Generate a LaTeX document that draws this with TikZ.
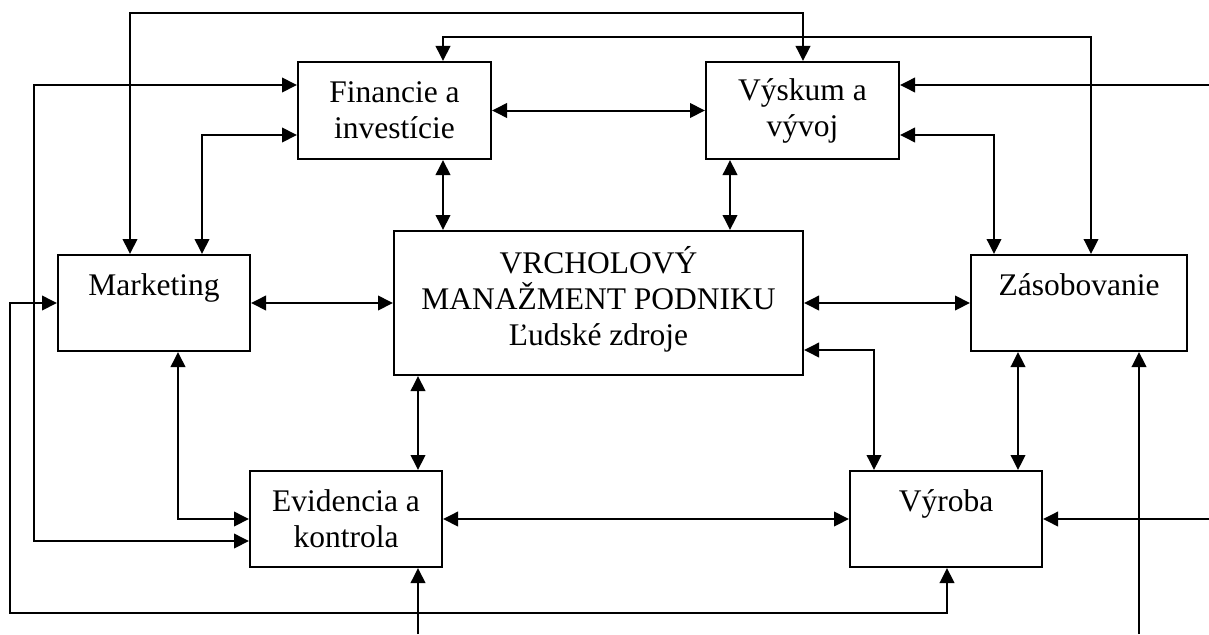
\documentclass[tikz,border=0pt]{standalone}
\usepackage{fontspec}
\setmainfont{Liberation Serif}
\usetikzlibrary{arrows.meta}
\begin{document}
\begin{tikzpicture}[x=1pt,y=-1pt,
  line width=2pt,
  >={Triangle[length=15pt,width=14.5pt]},
  unit/.style={draw, rectangle, inner sep=0pt, align=center,
    font=\fontsize{31.5}{36}\selectfont},
  link/.style={<->},
  feed/.style={->}]
\useasboundingbox (0,0) rectangle (1209,634);

% departments
\node[unit, minimum width=193pt, minimum height=97pt] (fin) at (394.5,110.5) {Financie a\\investície};
\node[unit, minimum width=193pt, minimum height=97pt] (vys) at (802.5,110.5) {Výskum a\\vývoj};
\node[unit, minimum width=192pt, minimum height=96pt] (mkt) at (154,303) {Marketing\\~};
\node[unit, minimum width=409pt, minimum height=144pt] (top) at (598.5,303) {};
\node[font=\fontsize{31.5}{36}\selectfont, align=center] (toptext) at (598.5,299)
  {VRCHOLOVÝ\\MANAŽMENT PODNIKU\\Ľudské zdroje};
\node[unit, minimum width=216pt, minimum height=96pt] (zas) at (1079,303) {Zásobovanie\\~};
\node[unit, minimum width=192pt, minimum height=96pt] (evi) at (346,519) {Evidencia a\\kontrola};
\node[unit, minimum width=192pt, minimum height=96pt] (vyr) at (946,519) {Výroba\\~};

% free ends of incoming lines
\coordinate (inVys) at (1209,85);
\coordinate (inVyr) at (1209,519);
\coordinate (inZas) at (1139,634);
\coordinate (inEvi) at (418,634);

% straight links
\draw[link] (fin) -- (vys);
\draw[link] (mkt) -- (top);
\draw[link] (top) -- (zas);
\draw[link] (evi) -- (vyr);
\draw[link] (fin.south -| 443,0) -- (top.north -| 443,0);
\draw[link] (vys.south -| 730,0) -- (top.north -| 730,0);
\draw[link] (top.south -| 418,0) -- (evi.north -| 418,0);
\draw[link] (zas.south -| 1018,0) -- (vyr.north -| 1018,0);

% routed links
\draw[link] (top.east |- 0,350) -| (vyr.north -| 874,0);
\draw[link] (vys.east |- 0,135) -| (zas.north -| 994,0);
\draw[link] (fin.west |- 0,135) -| (mkt.north -| 202,0);
\draw[link] (mkt.south -| 178,0) |- (evi.west);
\draw[link] (fin.west |- 0,85) -| (34,541) -- (evi.west |- 0,541);
\draw[link] (mkt.north -| 130,0) |- (803,13) -- (vys.north -| 803,0);
\draw[link] (fin.north -| 443,0) |- (1091,37) -- (zas.north -| 1091,0);
\draw[link] (mkt.west) -| (10,613) -| (vyr.south -| 947,0);

% incoming lines
\draw[feed] (inVys) -- (vys.east |- inVys);
\draw[feed] (inVyr) -- (vyr.east |- inVyr);
\draw[feed] (inZas) -- (zas.south -| inZas);
\draw[feed] (inEvi) -- (evi.south -| inEvi);
\end{tikzpicture}
\end{document}
